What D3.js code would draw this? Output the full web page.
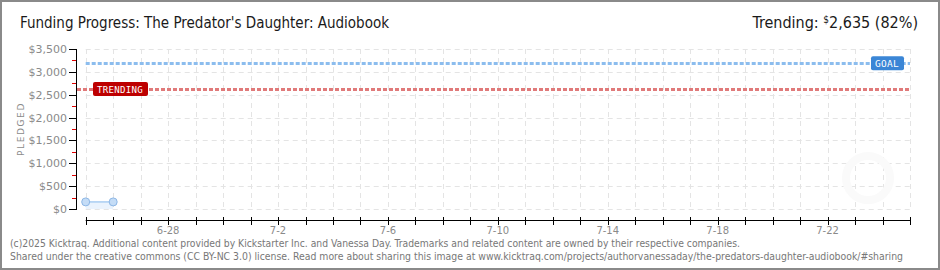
<!DOCTYPE html>
<html><head><meta charset="utf-8">
<script src="https://cdn.jsdelivr.net/npm/d3@7/dist/d3.min.js"></script>
<style>
html,body{margin:0;padding:0;background:#fff;}
svg{display:block;}
</style></head>
<body>
<svg id="c" width="940" height="270"></svg>
<script>
// ---- data ----
const titleText = "Funding Progress: The Predator's Daughter: Audiobook";
const dates = ["2025-06-25", "2025-06-26"];
const pledged = [155, 155];
const goal = 3200;
const trending = 2635;
const trendingPct = "82%";
const dateDomain = ["2025-06-25", "2025-07-25"];
const yTicks = [0, 500, 1000, 1500, 2000, 2500, 3000, 3500];
const yMinorTicks = [250, 750, 1250, 1750, 2250, 2750, 3250];
const xLabelDates = ["2025-06-28", "2025-07-02", "2025-07-06", "2025-07-10", "2025-07-14", "2025-07-18", "2025-07-22"];
const footer1 = "(c)2025 Kicktraq. Additional content provided by Kickstarter Inc. and Vanessa Day. Trademarks and related content are owned by their respective companies.";
const footer2 = "Shared under the creative commons (CC BY-NC 3.0) license. Read more about sharing this image at www.kicktraq.com/projects/authorvanessaday/the-predators-daughter-audiobook/#sharing";

const parse = d3.utcParse("%Y-%m-%d");
const svg = d3.select("#c");
const W = 940, H = 270;

// frame
svg.append("rect").attr("x", 1).attr("y", 1).attr("width", W - 2).attr("height", H - 2)
  .attr("fill", "#fff").attr("stroke", "#8a8a8a").attr("stroke-width", 2);

const x = d3.scaleUtc().domain(dateDomain.map(parse)).range([85.7, 910]);
const y = d3.scaleLinear().domain([0, 3500]).range([209, 49]);

const grid = svg.append("g");
grid.selectAll("line.h").data(yTicks).join("line")
  .attr("x1", x.range()[0]).attr("x2", x.range()[1])
  .attr("y1", d => Math.round(y(d)) + 0.5).attr("y2", d => Math.round(y(d)) + 0.5)
  .attr("stroke", "#e4e4e4").attr("stroke-dasharray", "5,4");
const dayTicks = d3.utcDay.range(parse(dateDomain[0]), d3.utcDay.offset(parse(dateDomain[1]), 1));
grid.selectAll("line.v").data(dayTicks).join("line")
  .attr("x1", d => Math.round(x(d)) + 0.5).attr("x2", d => Math.round(x(d)) + 0.5)
  .attr("y1", y(3500)).attr("y2", y(0))
  .attr("stroke", "#e4e4e4").attr("stroke-dasharray", "5,4");

// faint watermark
svg.append("circle").attr("cx", 868).attr("cy", 178).attr("r", 22)
  .attr("fill", "none").attr("stroke", "#fafafa").attr("stroke-width", 8);

// series
const pts = dates.map((d, i) => ({ d: parse(d), v: pledged[i] }));
svg.append("path").datum(pts)
  .attr("d", d3.area().x(d => x(d.d)).y0(y(0)).y1(d => y(d.v)))
  .attr("fill", "#eaf3fd");
svg.append("path").datum(pts)
  .attr("d", d3.line().x(d => x(d.d)).y(d => y(d.v)))
  .attr("fill", "none").attr("stroke", "#a9cdf2").attr("stroke-width", 1.5);
svg.selectAll("circle.pt").data(pts).join("circle")
  .attr("cx", d => x(d.d)).attr("cy", d => y(d.v)).attr("r", 4)
  .attr("fill", "#c4dcf6").attr("stroke", "#8db7e6").attr("stroke-width", 1);

// goal line
svg.append("line").attr("x1", x.range()[0]).attr("x2", x.range()[1])
  .attr("y1", Math.round(y(goal)) + 0.5).attr("y2", Math.round(y(goal)) + 0.5)
  .attr("stroke", "#8cbdee").attr("stroke-width", 3).attr("stroke-dasharray", "4,2");
// trending line
svg.append("line").attr("x1", 77).attr("x2", x.range()[1])
  .attr("y1", Math.round(y(trending)) + 0.5).attr("y2", Math.round(y(trending)) + 0.5)
  .attr("stroke", "#e07a7a").attr("stroke-width", 3).attr("stroke-dasharray", "4,2");

function tag(cx, cy, w, txt, fill) {
  const g = svg.append("g");
  g.append("rect").attr("x", cx).attr("y", cy - 7).attr("width", w).attr("height", 14)
    .attr("rx", 2).attr("fill", fill);
  g.append("text").attr("x", cx + 4).attr("y", cy + 4).text(txt)
    .attr("fill", "#fff").attr("font-family", "DejaVu Sans Mono, monospace")
    .attr("font-size", 9.5).attr("letter-spacing", 0.3)
    .attr("textLength", w - 9).attr("lengthAdjust", "spacingAndGlyphs");
}
tag(871, y(goal) + 0.5, 33, "GOAL", "#3b86d6");
tag(93, y(trending) + 0.5, 55, "TRENDING", "#bd0000");

// y axis
const ax = svg.append("g");
ax.append("line").attr("x1", 76.5).attr("x2", 76.5).attr("y1", y(3500)).attr("y2", y(0) + 1)
  .attr("stroke", "#000");
ax.selectAll("line.t").data(yTicks).join("line")
  .attr("x1", 69).attr("x2", 76.5)
  .attr("y1", d => Math.round(y(d)) + 0.5).attr("y2", d => Math.round(y(d)) + 0.5)
  .attr("stroke", "#000");
ax.selectAll("line.m").data(yMinorTicks).join("line")
  .attr("x1", 72).attr("x2", 76)
  .attr("y1", d => Math.round(y(d)) + 0.5).attr("y2", d => Math.round(y(d)) + 0.5)
  .attr("stroke", "#e00000");
ax.selectAll("text").data(yTicks).join("text")
  .attr("x", 67).attr("y", d => y(d) + 4).attr("text-anchor", "end")
  .attr("fill", "#8a8a8a").attr("font-family", "DejaVu Sans").attr("font-size", 11)
  .text(d => "$" + d3.format(",")(d));

svg.append("text").attr("transform", "translate(24,129) rotate(-90)")
  .attr("text-anchor", "middle").attr("fill", "#8a8a8a")
  .attr("font-family", "DejaVu Sans").attr("font-size", 9).attr("letter-spacing", 1.6)
  .text("PLEDGED");

// x axis
const xa = svg.append("g");
xa.append("line").attr("x1", x.range()[0]).attr("x2", x.range()[1])
  .attr("y1", 220.5).attr("y2", 220.5).attr("stroke", "#000");
xa.selectAll("line.t").data(dayTicks).join("line")
  .attr("x1", d => Math.round(x(d)) + 0.5).attr("x2", d => Math.round(x(d)) + 0.5)
  .attr("y1", 217).attr("y2", 225).attr("stroke", "#000");
const fmt = d3.utcFormat("%-m-%-d");
xa.selectAll("text").data(xLabelDates.map(parse)).join("text")
  .attr("x", d => x(d)).attr("y", 234).attr("text-anchor", "middle")
  .attr("fill", "#8a8a8a").attr("font-family", "DejaVu Sans").attr("font-size", 10)
  .text(d => fmt(d));

// title
svg.append("text").attr("x", 20).attr("y", 28).text(titleText)
  .attr("font-family", "DejaVu Sans Condensed, Liberation Sans Narrow, sans-serif")
  .attr("font-size", 16).attr("fill", "#1a1a1a")
  .attr("textLength", 369).attr("lengthAdjust", "spacingAndGlyphs");

// trending header
const th = svg.append("text").attr("x", 918).attr("y", 28).attr("text-anchor", "end")
  .attr("font-family", "DejaVu Sans Condensed, Liberation Sans Narrow, sans-serif")
  .attr("font-size", 16).attr("fill", "#1a1a1a");
th.append("tspan").text("Trending:  ");
th.append("tspan").text("$").attr("font-size", 10).attr("dy", -5);
th.append("tspan").text(d3.format(",")(trending) + " (" + trendingPct + ")").attr("dy", 5);

// footer
svg.append("text").attr("x", 10).attr("y", 247).text(footer1)
  .attr("font-family", "DejaVu Sans Condensed, Liberation Sans Narrow, sans-serif")
  .attr("font-size", 10.5).attr("fill", "#777")
  .attr("textLength", 730).attr("lengthAdjust", "spacingAndGlyphs");
svg.append("text").attr("x", 10).attr("y", 260).text(footer2)
  .attr("font-family", "DejaVu Sans Condensed, Liberation Sans Narrow, sans-serif")
  .attr("font-size", 10.5).attr("fill", "#777")
  .attr("textLength", 893).attr("lengthAdjust", "spacingAndGlyphs");
</script>
</body></html>
